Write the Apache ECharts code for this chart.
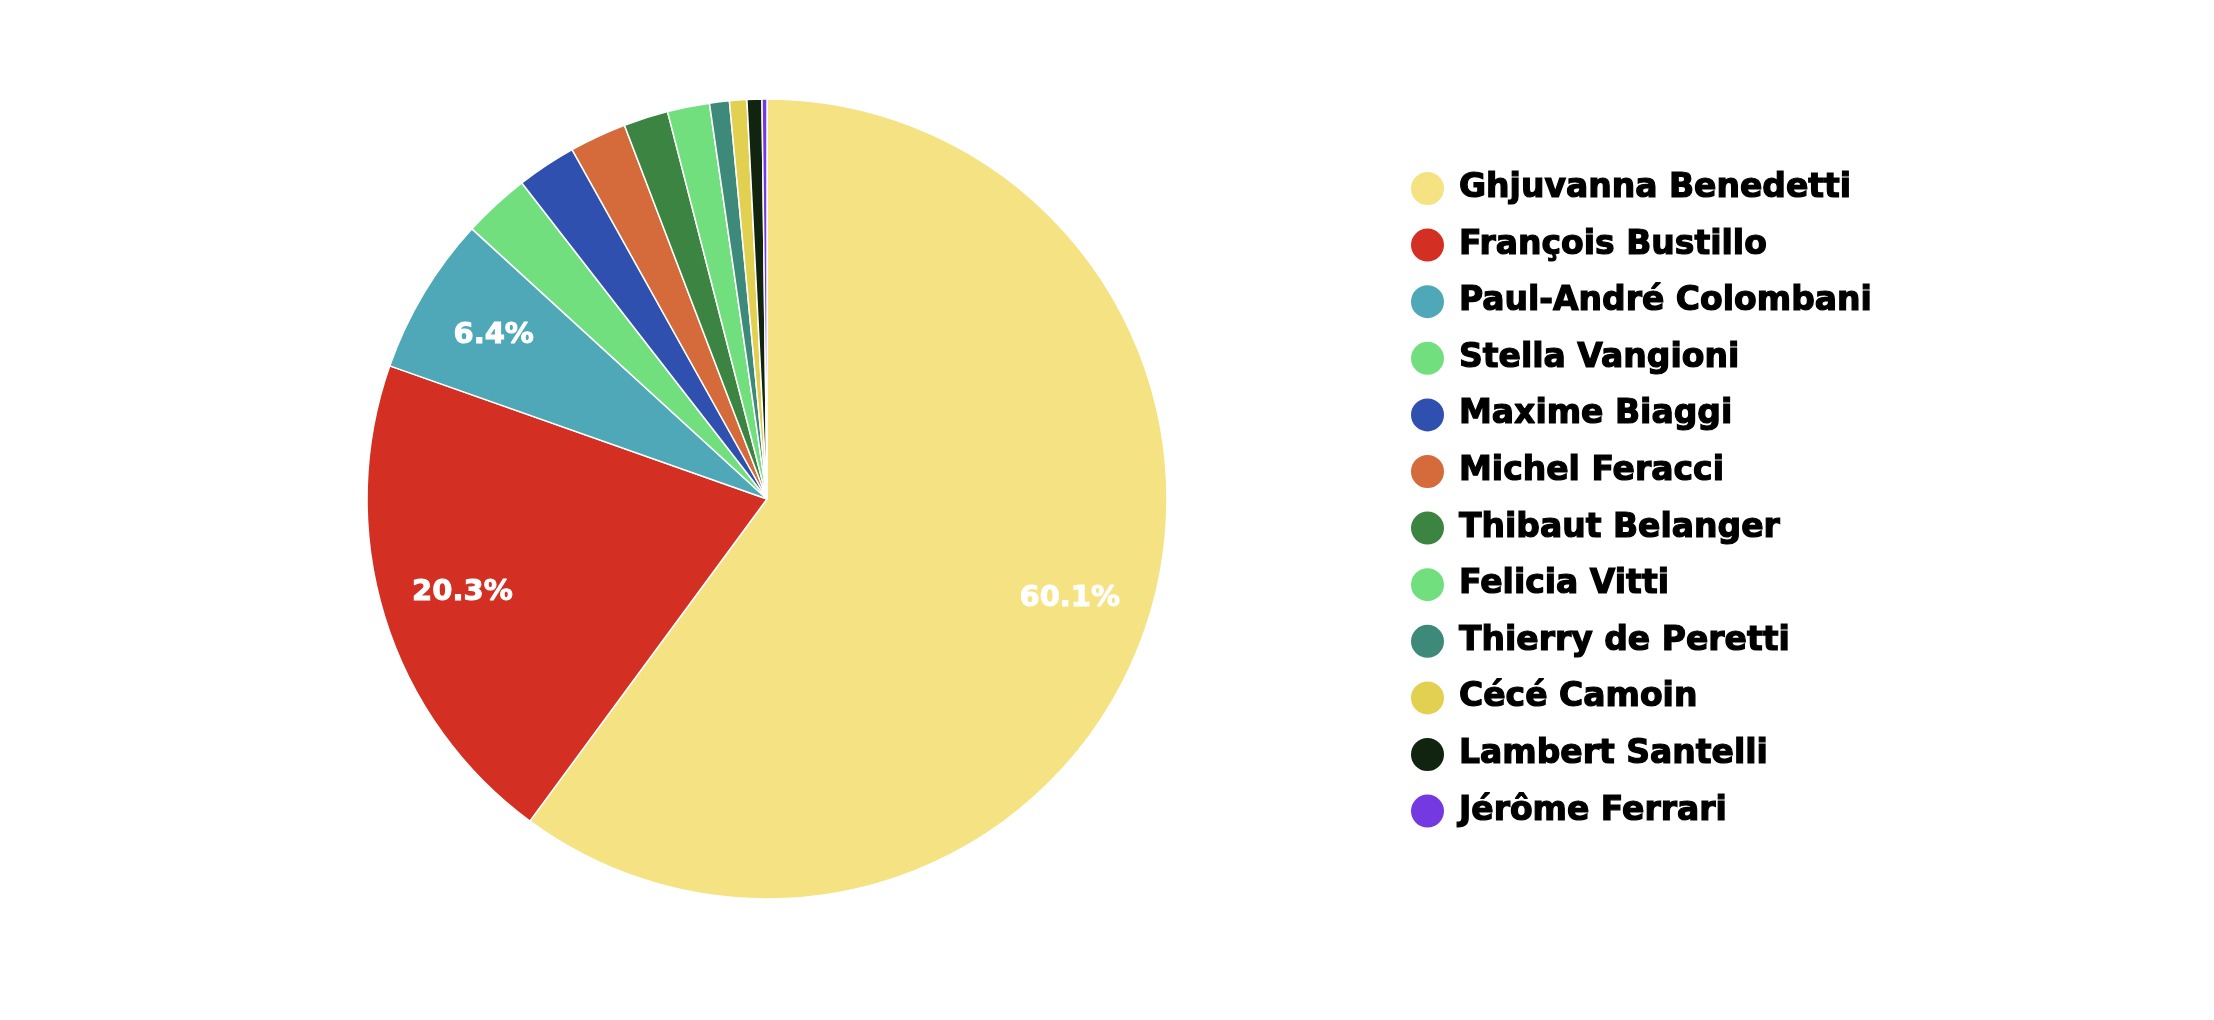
<!DOCTYPE html>
<html><head><meta charset="utf-8">
<script src="https://cdn.jsdelivr.net/npm/echarts@6/dist/echarts.min.js"></script>
<style>html,body{margin:0;padding:0;background:#fff}#c{width:2214px;height:1020px}</style>
</head><body><div id="c"></div>
<script>
const names = ['Ghjuvanna Benedetti','François Bustillo','Paul-André Colombani','Stella Vangioni','Maxime Biaggi','Michel Feracci','Thibaut Belanger','Felicia Vitti','Thierry de Peretti','Cécé Camoin','Lambert Santelli','Jérôme Ferrari'];
const values = [60.1, 20.3, 6.4, 2.7, 2.4, 2.3, 1.8, 1.7, 0.8, 0.7, 0.6, 0.2];
const colors = ['#F5E283','#D32F22','#4EA8B8','#72DF7E','#3050B0','#D56A3A','#3B8441','#72DF7E','#3E8A7A','#E2D150','#10240F','#7439E0'];

const CX = 767, CY = 499;
const chart = echarts.init(document.getElementById('c'));
chart.setOption({
  backgroundColor: '#fff',
  animation: false,
  legend: {
    orient: 'vertical', left: 1404, top: 165,
    icon: 'circle', itemWidth: 35, itemHeight: 35, itemGap: 19.6,
    textStyle: { fontFamily: 'DejaVu Sans', fontWeight: 'bold', fontSize: 33, color: '#000', textBorderColor: '#000', textBorderWidth: 1.2, padding: [0,0,0,9], lineHeight: 35 },
    data: names
  },
  series: [{
    type: 'pie',
    center: [CX, CY], radius: 400,
    startAngle: 90, clockwise: true,
    percentPrecision: 1,
    itemStyle: { borderColor: '#fff', borderWidth: 1.5 },
    label: { show: true, position: 'inside', formatter: '{d}%', color: '#fff', textBorderColor: '#fff', textBorderWidth: 1, fontFamily: 'DejaVu Sans', fontWeight: 'bold', fontSize: 29 },
    labelLine: { show: false },
    labelLayout: function (p) {
      const r = p.labelRect;
      const x0 = r.x + r.width / 2, y0 = r.y + r.height / 2;
      return { x: CX + (x0 - CX) * 1.57, y: CY + (y0 - CY) * 1.57, align: 'center', verticalAlign: 'middle' };
    },
    data: names.map((n, i) => ({ name: n, value: values[i], itemStyle: { color: colors[i] }, label: { show: values[i] > 5 } }))
  }]
});
</script></body></html>
